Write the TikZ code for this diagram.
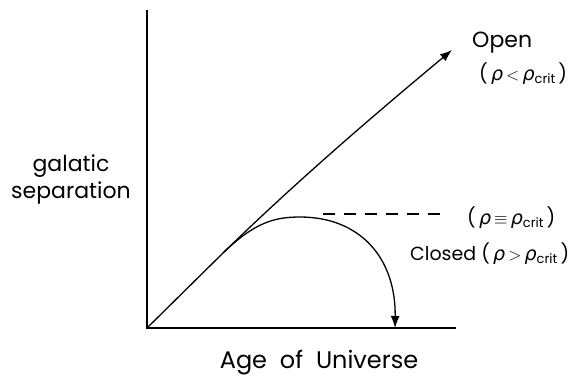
\documentclass[tikz,border=0pt]{standalone}
\usepackage{fontspec}
\setmainfont{Poppins}
\newfontfamily\rhofont{DejaVu Sans}
\usetikzlibrary{arrows.meta}
\newcommand{\rh}{{\rhofont\itshape ρ}}
\newcommand{\sbcrit}{\raisebox{-0.3ex}{\fontsize{13}{13}\selectfont crit}}
\newcommand{\crit}[1]{\rh\,#1\,\rh\sbcrit}
\begin{document}
\begin{tikzpicture}[x=1pt,y=-1pt,
  axis/.style={line width=1.6pt},
  curve/.style={line width=1.3pt},
  tip/.style={-{Latex[length=12pt,width=9pt]}},
  lbl/.style={font=\fontsize{19}{27}\selectfont, inner sep=0pt},
  lblc/.style={lbl, align=center}]
\useasboundingbox (0,0) rectangle (588,376);
\coordinate (O) at (147,328);
\coordinate (ytop) at (147,10);
\coordinate (xend) at (456,328);
\coordinate (branch) at (223,253);
\coordinate (opentip) at (452,50);
\coordinate (peak) at (300,217);
\coordinate (closedtip) at (395,328);
\coordinate (dashA) at (323,214);
\coordinate (dashB) at (441,214);
% axes
\draw[axis] (ytop) -- (O) -- (xend);
% open curve
\draw[curve, tip] (O) -- (branch) .. controls (300,178) and (380,110) .. (opentip);
% closed curve
\draw[curve, tip] (branch) .. controls (255,222) and (275,217) .. (peak)
  .. controls (360,217) and (396,258) .. (closedtip);
% critical dashed line
\draw[curve, dash pattern=on 12pt off 9pt] (dashA) -- (dashB);
% labels
\node[lbl, font=\fontsize{22}{26}\selectfont, anchor=base west] (open) at (472,47) {Open};
\node[lbl, anchor=base west] (openrho) at (479,80) {(\,\crit{$<$}\,)};
\node[lbl, anchor=base west] (critrho) at (467,224) {(\,\crit{$\equiv$}\,)};
\node[lbl, anchor=base west] (closed) at (410,260) {Closed (\,\crit{$>$}\,)};
\node[lblc, font=\fontsize{22}{27}\selectfont] (ylabel) at (71,179) {galatic\\separation};
\node[lbl, font=\fontsize{24}{27}\selectfont, anchor=base] (xlabel) at (319,368) {Age\ \ of\ \ Universe};
\end{tikzpicture}
\end{document}
